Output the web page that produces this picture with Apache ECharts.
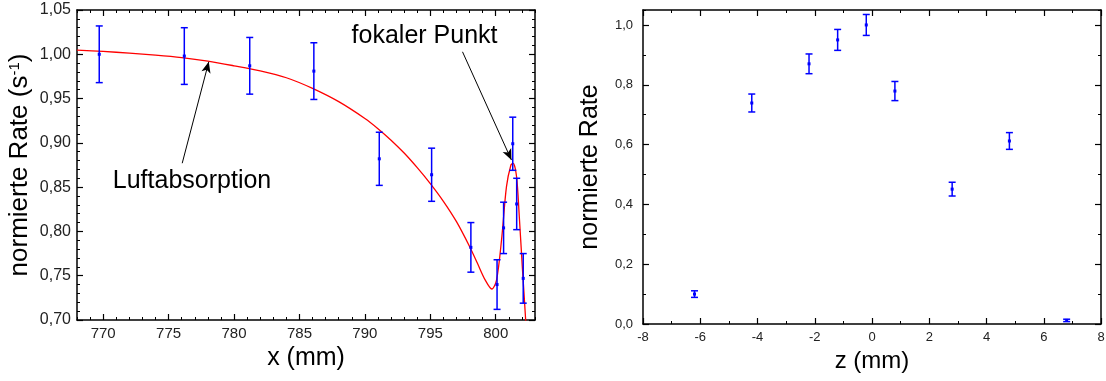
<!DOCTYPE html>
<html>
<head>
<meta charset="utf-8">
<script src="https://cdn.jsdelivr.net/npm/echarts@6/dist/echarts.min.js"></script>
<style>
  html, body { margin: 0; padding: 0; background: #fff; }
  #chart { width: 1106px; height: 381px; }
</style>
</head>
<body>
<div id="chart"></div>
<script>
// left panel: rate vs. x position
const posX  = [769.7, 776.2, 781.2, 786.1, 791.1, 795.1, 798.1, 800.1, 800.6, 801.3, 801.6, 802.1];
const rateX = [1.000, 0.998, 0.987, 0.981, 0.882, 0.864, 0.782, 0.740, 0.804, 0.899, 0.831, 0.747];
const errX  = [0.032, 0.032, 0.032, 0.032, 0.030, 0.030, 0.028, 0.028, 0.029, 0.030, 0.029, 0.028];

// fitted curve
const fitX    = [768, 770, 772, 774, 776, 778, 780, 782, 784, 786, 788, 790, 791, 792, 793, 794, 795, 796, 797,
                 798, 798.6, 799.2, 799.7, 800.06, 800.44, 800.82, 801.16, 801.33, 801.59, 801.8, 802.03,
                 802.27, 802.35];
const fitRate = [1.0047, 1.0032, 1.0013, 0.9991, 0.9963, 0.9923, 0.9870, 0.9812, 0.9735, 0.9615, 0.9465, 0.9275,
                 0.9160, 0.9030, 0.8885, 0.8720, 0.8540, 0.8340, 0.8110, 0.7830, 0.7640, 0.7450, 0.7350, 0.7450,
                 0.7900, 0.8505, 0.8750, 0.8768, 0.8620, 0.8166, 0.7600, 0.7040, 0.6800];

// right panel: rate vs. z
const posZ  = [-6.2, -4.2, -2.2, -1.2, -0.2, 0.8, 2.8, 4.8, 6.8];
const rateZ = [0.100, 0.739, 0.870, 0.950, 1.000, 0.779, 0.451, 0.612, 0.012];
const errZ  = [0.011, 0.030, 0.033, 0.035, 0.035, 0.032, 0.023, 0.028, 0.004];

// tick labels
const xTicks = [770, 775, 780, 785, 790, 795, 800];
const yTicksL = [0.70, 0.75, 0.80, 0.85, 0.90, 0.95, 1.00, 1.05];
const zTicks = [-8, -6, -4, -2, 0, 2, 4, 6, 8];
const yTicksR = [0.0, 0.2, 0.4, 0.6, 0.8, 1.0];

const notes = [
  { text: 'Luftabsorption', at: [776.79, 0.8569], from: [776.04, 0.877], to: [778.07, 0.9915] },
  { text: 'fokaler Punkt', at: [794.56, 1.0205], from: [797.46, 1.0028], to: [801.2, 0.8806] }
];

const font = '"Liberation Sans", Arial, sans-serif';
const blue = '#0000ff';

const comma = (d) => (v) => v.toFixed(d).replace('.', ',');

// one side of a frame: a major axis (ticks + labels) and a minor axis (short ticks)
const side = (grid, position, min, max, ticks, minorStep, lab) => {
  const major = {
    type: 'value', gridIndex: grid, position, min, max,
    axisLine: { show: true, onZero: false, lineStyle: { color: '#000', width: 1.5 } },
    axisTick: { show: true, inside: true, length: 6, customValues: ticks, lineStyle: { color: '#000', width: 1.2 } },
    axisLabel: lab ? Object.assign({ customValues: ticks, color: '#222', fontFamily: font }, lab) : { show: false },
    splitLine: { show: false }
  };
  const minor = {
    type: 'value', gridIndex: grid, position, min, max, interval: minorStep,
    axisLine: { show: false, onZero: false },
    axisTick: { show: true, inside: true, length: 3, lineStyle: { color: '#000', width: 1 } },
    axisLabel: { show: false },
    splitLine: { show: false }
  };
  return [major, minor];
};

const xAxes = [
  ...side(0, 'bottom', 768, 803, xTicks, 1, { fontSize: 15, margin: 6, formatter: (v) => String(v) }),
  ...side(0, 'top', 768, 803, xTicks, 1, null),
  ...side(1, 'bottom', -8, 8, zTicks, 1, { fontSize: 13, margin: 7, formatter: (v) => String(v) }),
  ...side(1, 'top', -8, 8, zTicks, 1, null)
];
const yAxes = [
  ...side(0, 'left', 0.70, 1.05, yTicksL, 0.01, { fontSize: 16, margin: 6, formatter: comma(2) }),
  ...side(0, 'right', 0.70, 1.05, yTicksL, 0.01, null),
  ...side(1, 'left', 0, 1.05, yTicksR, 0.1, { fontSize: 13, margin: 10, formatter: comma(1) }),
  ...side(1, 'right', 0, 1.05, yTicksR, 0.1, null)
];

// axis titles
Object.assign(xAxes[0], {
  name: 'x (mm)', nameLocation: 'middle', nameGap: 26,
  nameTextStyle: { fontSize: 25, color: '#000', fontFamily: font }
});
Object.assign(xAxes[4], {
  name: 'z (mm)', nameLocation: 'middle', nameGap: 24,
  nameTextStyle: { fontSize: 24, color: '#000', fontFamily: font }
});
Object.assign(yAxes[0], {
  name: '{a|normierte Rate (s}{b|-1}{a|)}', nameLocation: 'middle', nameGap: 44,
  nameTextStyle: {
    color: '#000', fontFamily: font,
    rich: {
      a: { fontSize: 26, color: '#000', fontFamily: font },
      b: { fontSize: 15, color: '#000', fontFamily: font, verticalAlign: 'top' }
    }
  }
});
Object.assign(yAxes[4], {
  name: 'normierte Rate', nameLocation: 'middle', nameGap: 40,
  nameTextStyle: { fontSize: 25, color: '#000', fontFamily: font }
});

const errorBar = (params, api) => {
  const x = api.value(0), y = api.value(1), e = api.value(2);
  const top = api.coord([x, y + e]);
  const bot = api.coord([x, y - e]);
  const mid = api.coord([x, y]);
  const w = 3.5;
  const st = { stroke: blue, lineWidth: 1.5 };
  return {
    type: 'group',
    children: [
      { type: 'line', shape: { x1: top[0], y1: top[1], x2: bot[0], y2: bot[1] }, style: st },
      { type: 'line', shape: { x1: top[0] - w, y1: top[1], x2: top[0] + w, y2: top[1] }, style: st },
      { type: 'line', shape: { x1: bot[0] - w, y1: bot[1], x2: bot[0] + w, y2: bot[1] }, style: st },
      { type: 'rect', shape: { x: mid[0] - 1.5, y: mid[1] - 1.5, width: 3, height: 3 }, style: { fill: blue } }
    ]
  };
};

const chart = echarts.init(document.getElementById('chart'), null, { renderer: 'canvas' });
chart.setOption({
  animation: false,
  backgroundColor: '#fff',
  textStyle: { fontFamily: font },
  grid: [
    { left: 77, top: 10, width: 458, height: 310, outerBoundsMode: 'none', containLabel: false },
    { left: 643, top: 10, width: 458, height: 314, outerBoundsMode: 'none', containLabel: false }
  ],
  xAxis: xAxes,
  yAxis: yAxes,
  series: [
    {
      type: 'line', xAxisIndex: 0, yAxisIndex: 0,
      data: fitX.map((x, i) => [x, fitRate[i]]),
      showSymbol: false, smooth: 0.3, clip: true,
      lineStyle: { color: '#ff0000', width: 1.3 },
      z: 2,
      markLine: {
        silent: true, symbol: ['none', 'arrow'], symbolSize: [7, 11],
        lineStyle: { color: '#000', width: 1, type: 'solid' },
        label: { show: false },
        data: notes.map((n) => [{ coord: n.from }, { coord: n.to }])
      },
      markPoint: {
        silent: true, symbol: 'circle', symbolSize: 1,
        itemStyle: { color: 'rgba(0,0,0,0)' },
        label: { show: true, position: 'inside', fontSize: 25, color: '#000', fontFamily: font, formatter: (p) => p.name },
        data: notes.map((n) => ({ name: n.text, coord: n.at }))
      }
    },
    {
      type: 'custom', xAxisIndex: 0, yAxisIndex: 0,
      renderItem: errorBar,
      encode: { x: 0, y: 1 },
      data: posX.map((x, i) => [x, rateX[i], errX[i]]),
      z: 3
    },
    {
      type: 'custom', xAxisIndex: 4, yAxisIndex: 4,
      renderItem: errorBar,
      encode: { x: 0, y: 1 },
      data: posZ.map((x, i) => [x, rateZ[i], errZ[i]]),
      z: 3
    }
  ]
});
</script>
</body>
</html>
